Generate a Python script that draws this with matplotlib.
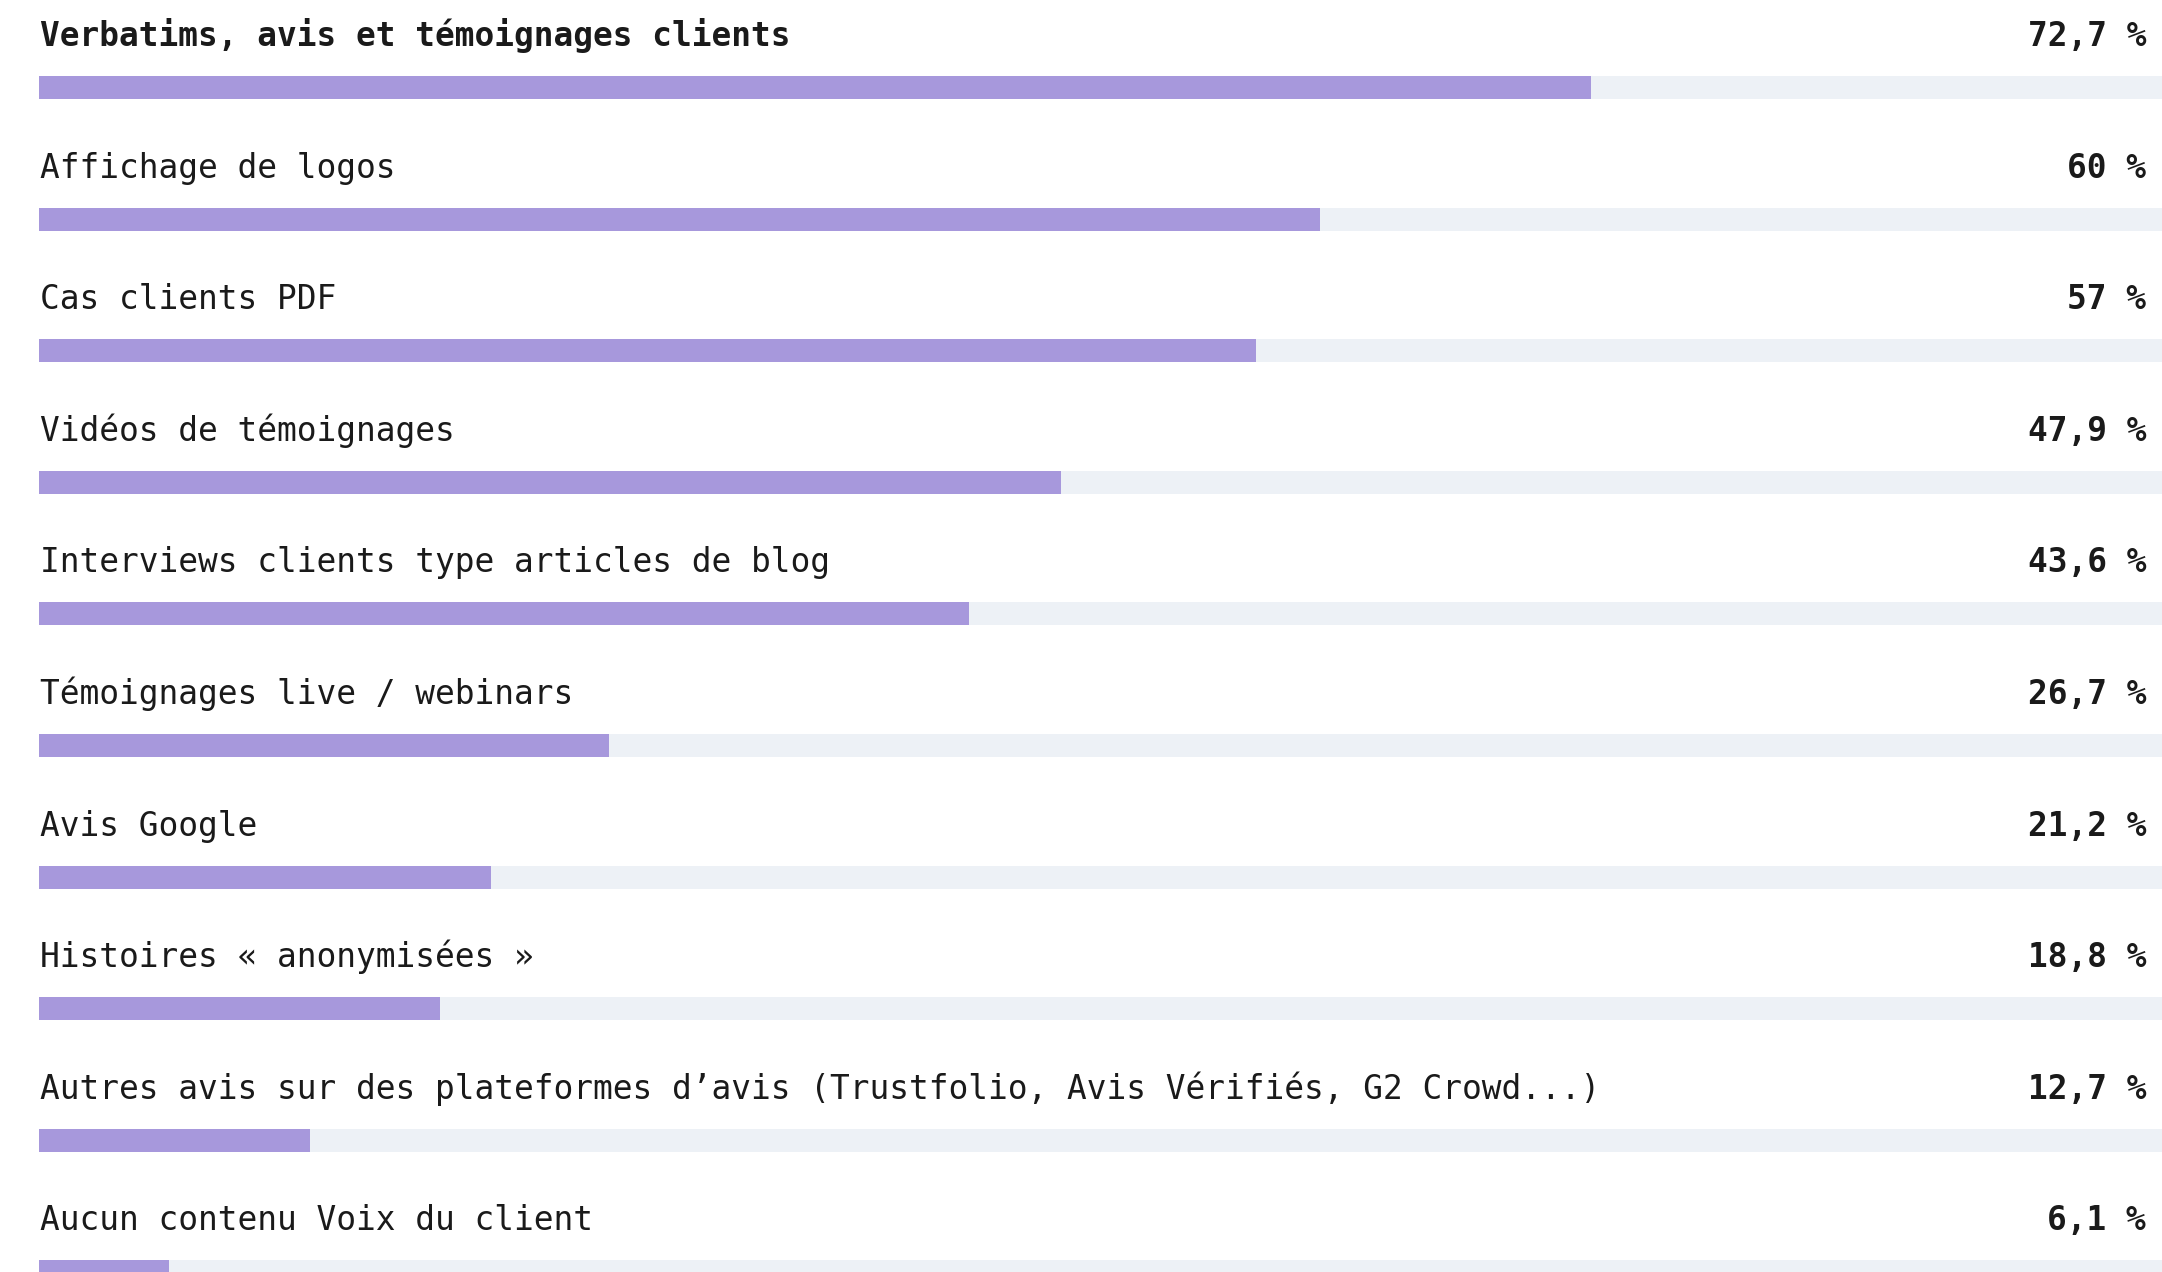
import matplotlib
matplotlib.use("Agg")
import matplotlib.pyplot as plt

# =========== Data ============

labels = [
    "Verbatims, avis et témoignages clients",
    "Affichage de logos",
    "Cas clients PDF",
    "Vidéos de témoignages",
    "Interviews clients type articles de blog",
    "Témoignages live / webinars",
    "Avis Google",
    "Histoires « anonymisées »",
    "Autres avis sur des plateformes d’avis (Trustfolio, Avis Vérifiés, G2 Crowd...)",
    "Aucun contenu Voix du client",
]
values = [72.7, 60, 57, 47.9, 43.6, 26.7, 21.2, 18.8, 12.7, 6.1]

# =========== Style ============

W_PX, H_PX = 2162, 1272
DPI = 100
X0_PX = 38.6          # left edge of tracks
PCT_PX = 21.35        # pixels per percent
ROW_PX = 131.6        # row pitch
BAR_C0_PX = 87.5      # centre of first bar
BAR_H_PX = 23
TEXT_OFF_PX = 41.5    # baseline above bar centre

PURPLE = "#a798dc"
TRACK = "#edf1f6"
INK = "#1a1a1a"
FONT = "DejaVu Sans Mono"
FS = 23.6


def fmt(v):
    return f"{v:g}".replace(".", ",") + " %"


def main():
    fig = plt.figure(figsize=(W_PX / DPI, H_PX / DPI), dpi=DPI)
    ax = fig.add_axes([0, 0, 1, 1])
    ax.axis("off")

    ax.set_xlim(-X0_PX / PCT_PX, (W_PX - X0_PX) / PCT_PX)
    ax.set_ylim((H_PX - BAR_C0_PX) / ROW_PX, -BAR_C0_PX / ROW_PX)

    rows = list(range(len(labels)))
    bh = BAR_H_PX / ROW_PX
    ax.barh(rows, [100] * len(rows), height=bh, left=0, color=TRACK, linewidth=0)
    ax.barh(rows, values, height=bh, left=0, color=PURPLE, linewidth=0)

    ty = TEXT_OFF_PX / ROW_PX
    x_lab = (40 - X0_PX) / PCT_PX
    x_val = (2146 - X0_PX) / PCT_PX
    for i, (lab, v) in enumerate(zip(labels, values)):
        ax.text(x_lab, i - ty, lab, fontsize=FS, family=FONT, color=INK,
                fontweight="bold" if i == 0 else "normal",
                ha="left", va="baseline")
        ax.text(x_val, i - ty, fmt(v), fontsize=FS, family=FONT, color=INK,
                fontweight="bold", ha="right", va="baseline")

    fig.savefig("out.png", dpi=DPI, facecolor="white")


if __name__ == "__main__":
    main()
